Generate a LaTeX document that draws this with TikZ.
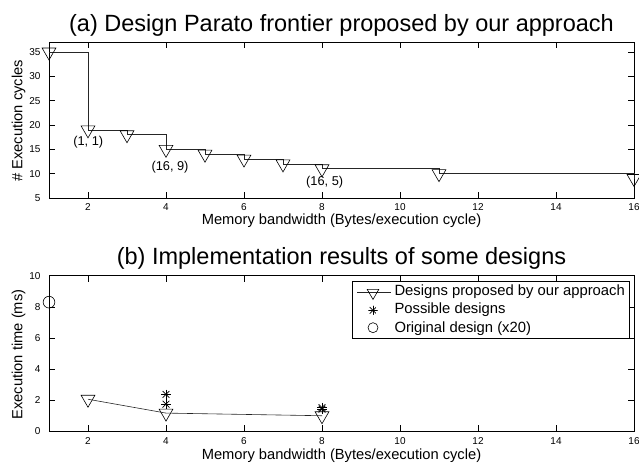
\documentclass[tikz,border=0pt]{standalone}
\usepackage{fontspec}
\setmainfont{Liberation Sans}
\usetikzlibrary{shapes.geometric}
\newcommand\myfs[1]{\fontsize{#1}{#1}\selectfont}
\begin{document}
\begin{tikzpicture}[x=1pt,y=1pt,
  tri/.style={draw=black, regular polygon, regular polygon sides=3, shape border rotate=180, minimum size=16pt, inner sep=0pt, line width=0.6pt},
  circmark/.style={draw=black, circle, minimum size=11.7pt, inner sep=0pt, line width=0.6pt},
  starmark/.style={circle, minimum size=11pt, inner sep=0pt, path picture={\foreach \a in {0,45,90,135}{\draw[line width=0.7pt,black] ([shift={(\a:4.8pt)}]path picture bounding box.center) -- ([shift={(\a+180:4.8pt)}]path picture bounding box.center);}}},
  axisbox/.style={draw=black, line width=0.8pt},
  tickline/.style={draw=black, line width=0.6pt},
  ticklab/.style={font=\myfs{10}, inner sep=0pt},
  axlab/.style={font=\myfs{14.7}, inner sep=0pt},
  leglab/.style={font=\myfs{14.8}, inner sep=0pt, anchor=base west},
  annlab/.style={font=\myfs{12.8}, inner sep=0pt, anchor=base},
  titlelab/.style={font=\myfs{23.5}, inner sep=0pt, anchor=base},
  datline/.style={draw=black!85, line width=0.6pt},
]
\useasboundingbox (0,0) rectangle (639,465);

% titles
\node[titlelab] (ta) at (341.5,433) {(a) Design Parato frontier proposed by our approach};
\node[titlelab] (tb) at (341.5,200.7) {(b) Implementation results of some designs};

% ---------- plot (a) ----------
\begin{scope}[shift={(10pt,242.67pt)}, x=39pt, y=4.8667pt]
  \draw[axisbox] (1,5) rectangle (16,37);
  \foreach \x in {2,4,...,14}{
    \draw[tickline] (\x,5) -- ++(0,5.85pt);
    \draw[tickline] (\x,37) -- ++(0,-5.85pt);
  }
  \foreach \x in {2,4,...,16}{
    \node[ticklab, anchor=base] (xa\x) at ([yshift=-13pt]\x,5) {\x};
  }
  \foreach \y in {10,15,...,35}{
    \draw[tickline] (1,\y) -- ++(5.85pt,0);
    \draw[tickline] (16,\y) -- ++(-5.85pt,0);
  }
  \foreach \y in {5,10,...,35}{
    \node[ticklab, anchor=east] (ya\y) at ([xshift=-8.3pt]1,\y) {\y};
  }
  \coordinate (a1) at (1,35);
  \coordinate (a2) at (2,19);
  \coordinate (a3) at (3,18);
  \coordinate (a4) at (4,15);
  \coordinate (a5) at (5,14);
  \coordinate (a6) at (6,13);
  \coordinate (a7) at (7,12);
  \coordinate (a8) at (8,11);
  \coordinate (a9) at (11,10);
  \coordinate (a10) at (16,9);
  \draw[datline] (a1) -| (a2) -| (a3) -| (a4) -| (a5) -| (a6) -| (a7) -| (a8) -| (a9) -| (a10);
  \foreach \i in {1,...,10}{
    \node[tri] (ma\i) at (a\i) {};
  }
\end{scope}
\node[annlab] (n1) at (88.3,319.5) {(1, 1)};
\node[annlab] (n2) at (170,294.5) {(16, 9)};
\node[annlab] (n3) at (324.7,279.5) {(16, 5)};
\node[axlab, anchor=base] (xla) at (341.5,240) {Memory bandwidth (Bytes/execution cycle)};
\node[axlab, anchor=base, rotate=90] (yla) at (22.3,344) {\# Execution cycles};

% ---------- plot (b) ----------
\begin{scope}[shift={(10pt,33.7pt)}, x=39pt, y=15.56pt]
  \draw[axisbox] (1,0) rectangle (16,10);
  \foreach \x in {2,4,...,14}{
    \draw[tickline] (\x,0) -- ++(0,5.85pt);
    \draw[tickline] (\x,10) -- ++(0,-5.85pt);
  }
  \foreach \x in {2,4,...,16}{
    \node[ticklab, anchor=base] (xb\x) at ([yshift=-13.7pt]\x,0) {\x};
  }
  \foreach \y in {2,4,6,8}{
    \draw[tickline] (1,\y) -- ++(5.85pt,0);
    \draw[tickline] (16,\y) -- ++(-5.85pt,0);
  }
  \foreach \y in {0,2,...,10}{
    \node[ticklab, anchor=east] (yb\y) at ([xshift=-8.3pt]1,\y) {\y};
  }
  \coordinate (b1) at (2,2.06);
  \coordinate (b2) at (4,1.17);
  \coordinate (b3) at (8,1.0);
  \draw[datline] (b1) -- (b2) -- (b3);
  \node[tri] (mb1) at (b1) {};
  \node[tri] (mb2) at (b2) {};
  \node[tri] (mb3) at (b3) {};
  \node[starmark] (s1) at (4,2.37) {};
  \node[starmark] (s2) at (4,1.74) {};
  \node[starmark] (s3) at (8,1.52) {};
  \node[starmark] (s4) at (8,1.42) {};
  \node[circmark] (c1) at (1,8.3) {};
\end{scope}
\node[axlab, anchor=base] (xlb) at (341.5,5.7) {Memory bandwidth (Bytes/execution cycle)};
\node[axlab, anchor=base, rotate=90] (ylb) at (22.3,110.5) {Execution time (ms)};

% legend
\node[draw=black, fill=white, line width=0.8pt, minimum width=277pt, minimum height=57pt, inner sep=0pt, anchor=north west] (leg) at (352.3,183.5) {};
\coordinate (l1) at (357.3,172.3);
\coordinate (l2) at (390.7,172.3);
\draw[datline] (l1) -- (l2);
\node[tri, minimum size=13.5pt] (lt) at (373,172.3) {};
\node[starmark, minimum size=9.5pt] (ls) at (373,154.7) {};
\node[circmark, minimum size=10pt] (lc) at (373,137.3) {};
\node[leglab] (lg1) at (394.3,169.7) {Designs proposed by our approach};
\node[leglab] (lg2) at (394.3,151.3) {Possible designs};
\node[leglab] (lg3) at (394.3,132.3) {Original design (x20)};
\end{tikzpicture}
\end{document}
